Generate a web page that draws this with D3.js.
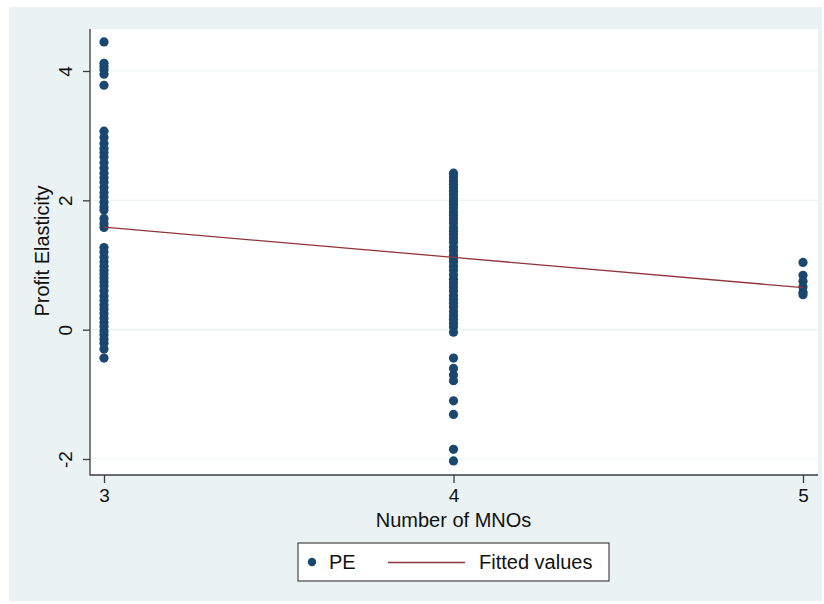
<!DOCTYPE html>
<html>
<head>
<meta charset="utf-8">
<script src="https://cdn.jsdelivr.net/npm/d3@7"></script>
<style>
  html, body { margin: 0; padding: 0; background: #ffffff; }
  svg { display: block; font-family: "Liberation Sans", Arial, sans-serif; }
</style>
</head>
<body>
<svg id="chart" width="824" height="604"></svg>
<script>
// Profit elasticity observations grouped by number of MNOs
const mnoCounts = [3, 4, 5];
const peAt3 = [4.45, 4.12, 4.07, 4.02, 3.95, 3.78, 3.07, 2.97, 2.88, 2.80, 2.74, 2.67, 2.58, 2.50,
  2.42, 2.35, 2.28, 2.20, 2.12, 2.05, 1.97, 1.90, 1.85, 1.72, 1.64, 1.58, 1.27, 1.20, 1.12, 1.05,
  0.98, 0.92, 0.86, 0.80, 0.74, 0.68, 0.60, 0.52, 0.45, 0.38, 0.32, 0.25, 0.18, 0.11, 0.05,
  -0.02, -0.08, -0.15, -0.21, -0.30, -0.44];
const peAt4 = [2.42, 2.36, 2.30, 2.25, 2.20, 2.14, 2.09, 2.03, 1.98, 1.93, 1.88, 1.82, 1.77, 1.71,
  1.65, 1.58, 1.52, 1.47, 1.41, 1.35, 1.28, 1.22, 1.15, 1.10, 1.05, 0.98, 0.92, 0.85, 0.78, 0.72,
  0.66, 0.60, 0.53, 0.47, 0.41, 0.35, 0.28, 0.22, 0.16, 0.10, 0.04, -0.04, -0.44, -0.60, -0.70,
  -0.79, -1.10, -1.31, -1.85, -2.03];
const peAt5 = [1.04, 0.84, 0.75, 0.66, 0.58, 0.54];
// Linear fit evaluated at each MNO count
const fittedValues = [1.585, 1.118, 0.65];
const yTicks = [-2, 0, 2, 4];
const xTicks = [3, 4, 5];

const navy = "#1a476f";
const maroon = "#90353b";
const bgTint = "#eaf2f3";
const axisGrey = "#3c3c3c";
const fontFamily = "Liberation Sans, Arial, sans-serif";

const svg = d3.select("#chart");

// outer graph region
svg.append("rect").attr("x", 9).attr("y", 7).attr("width", 813).attr("height", 594)
  .attr("fill", bgTint);

const plot = { left: 90, right: 818, top: 29, bottom: 475 };
svg.append("rect").attr("x", plot.left).attr("y", plot.top)
  .attr("width", plot.right - plot.left).attr("height", plot.bottom - plot.top)
  .attr("fill", "#ffffff");

const x = d3.scaleLinear().domain([3, 5]).range([104, 803]);
const y = d3.scaleLinear().domain([-2, 4]).range([459, 71]);

// horizontal grid
svg.append("g").selectAll("line").data(yTicks).join("line")
  .attr("x1", plot.left + 1).attr("x2", plot.right)
  .attr("y1", d => y(d)).attr("y2", d => y(d))
  .attr("stroke", bgTint).attr("stroke-width", 1.2);

// scatter points
const points = [];
[peAt3, peAt4, peAt5].forEach((vals, i) => vals.forEach(v => points.push({ n: mnoCounts[i], pe: v })));
svg.append("g").selectAll("circle").data(points).join("circle")
  .attr("cx", d => x(d.n)).attr("cy", d => y(d.pe)).attr("r", 4.6)
  .attr("fill", navy);

// fitted line
const line = d3.line().x((d, i) => x(mnoCounts[i])).y(d => y(d));
svg.append("path").datum(fittedValues).attr("d", line)
  .attr("fill", "none").attr("stroke", maroon).attr("stroke-width", 1.3);

// axes
const yAxis = svg.append("g").attr("transform", `translate(${plot.left},0)`)
  .call(d3.axisLeft(y).tickValues(yTicks).tickSize(7).tickPadding(0).tickFormat(d3.format("d")));
yAxis.select(".domain").remove();
yAxis.selectAll(".tick line").attr("stroke", axisGrey).attr("stroke-width", 1.3);
yAxis.selectAll(".tick text")
  .attr("transform", "translate(-25,0) rotate(-90)")
  .attr("x", 0).attr("dy", "0.35em")
  .attr("text-anchor", "middle")
  .attr("font-size", 19).attr("fill", "#111")
  .attr("font-family", fontFamily)
  .text(d => d < 0 ? "-" + Math.abs(d) : d);

const xAxis = svg.append("g").attr("transform", `translate(0,${plot.bottom})`)
  .call(d3.axisBottom(x).tickValues(xTicks).tickSize(8).tickPadding(6).tickFormat(d3.format("d")));
xAxis.select(".domain").remove();
xAxis.selectAll(".tick line").attr("stroke", axisGrey).attr("stroke-width", 1.3);
xAxis.selectAll(".tick text").attr("font-size", 19).attr("fill", "#111")
  .attr("font-family", fontFamily);

svg.append("line").attr("x1", plot.left).attr("x2", plot.left)
  .attr("y1", plot.top).attr("y2", plot.bottom + 0.6)
  .attr("stroke", axisGrey).attr("stroke-width", 1.3);
svg.append("line").attr("x1", plot.left).attr("x2", plot.right)
  .attr("y1", plot.bottom).attr("y2", plot.bottom)
  .attr("stroke", axisGrey).attr("stroke-width", 1.3);

// axis titles
svg.append("text").attr("x", (x(3) + x(5)) / 2).attr("y", 527)
  .attr("text-anchor", "middle").attr("font-size", 20).attr("fill", "#111")
  .text("Number of MNOs");
svg.append("text").attr("transform", `translate(49,${(y(-2) + y(4)) / 2 - 14}) rotate(-90)`)
  .attr("text-anchor", "middle").attr("font-size", 20).attr("fill", "#111")
  .text("Profit Elasticity");

// legend
const lg = svg.append("g");
lg.append("rect").attr("x", 298).attr("y", 543).attr("width", 311).attr("height", 38)
  .attr("fill", "#ffffff").attr("stroke", "#222").attr("stroke-width", 1);
lg.append("circle").attr("cx", 312).attr("cy", 562).attr("r", 4.2).attr("fill", navy);
lg.append("text").attr("x", 329).attr("y", 569).attr("font-size", 20).attr("fill", "#111").text("PE");
lg.append("line").attr("x1", 388).attr("x2", 465).attr("y1", 562.5).attr("y2", 562.5)
  .attr("stroke", maroon).attr("stroke-width", 1.3);
lg.append("text").attr("x", 479).attr("y", 569).attr("font-size", 20).attr("fill", "#111").text("Fitted values");
</script>
</body>
</html>
